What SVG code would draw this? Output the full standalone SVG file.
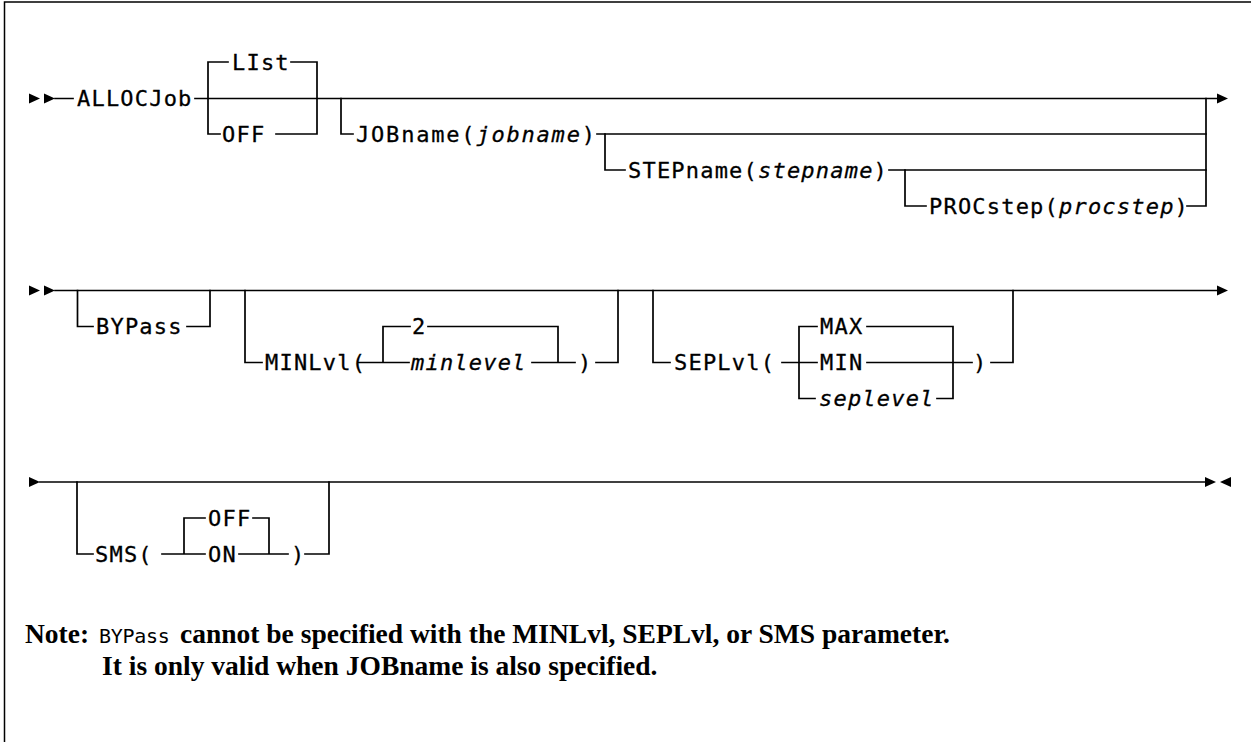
<svg xmlns="http://www.w3.org/2000/svg" width="1251" height="742" viewBox="0 0 1251 742">
  <style>
    .bg { fill: #ffffff; }
    .frame { fill: none; stroke: #000; stroke-width: 1.5; }
    .rail { fill: none; stroke: #000; stroke-width: 1.7; stroke-linecap: square; }
    .kw { font-family: "DejaVu Sans Mono", "Liberation Mono", monospace; font-size: 22px; letter-spacing: 1.2px; fill: #000; stroke: #000; stroke-width: 0.3; }
    .wide { letter-spacing: 1.8px; }
    .var { font-style: italic; }
    .note { font-family: "Liberation Serif", "Times New Roman", serif; font-size: 27.5px; font-weight: bold; fill: #000; }
    .notekw { font-family: "DejaVu Sans Mono", "Liberation Mono", monospace; font-size: 20px; letter-spacing: -0.3px; fill: #000; }
    .head { fill: #000; }
  </style>
  <defs>
    <polygon id="arrowR" points="0,-5 11,0 0,5"/>
    <polygon id="arrowL" points="11,-5 0,0 11,5"/>
  </defs>

  <rect class="bg" x="0" y="0" width="1251" height="742"/>
  <path class="frame" d="M4.5,742 V2 H1251"/>

  <!-- rails, branches and arrowheads -->
  <g id="connectors">
    <!-- line 1 -->
    <use href="#arrowR" class="head" x="29" y="98.5"/>
    <use href="#arrowR" class="head" x="44" y="98.5"/>
    <use href="#arrowR" class="head" x="1217" y="98.5"/>
    <path class="rail" d="M55,98.5 H73 M195,98.5 H1217"/>
    <path class="rail" d="M208,62 V134 M317,62 V134 M208,62 H228 M291,62 H317 M208,134 H220 M276,134 H317"/>
    <path class="rail" d="M341,98.5 V134 H353 M597,134 H1206"/>
    <path class="rail" d="M605,134 V170 H625 M889,170 H1206"/>
    <path class="rail" d="M905,170 V206 H926 M1187,206 H1206 M1206,98.5 V206"/>

    <!-- line 2 -->
    <use href="#arrowR" class="head" x="29" y="290.5"/>
    <use href="#arrowR" class="head" x="44" y="290.5"/>
    <use href="#arrowR" class="head" x="1217" y="290.5"/>
    <path class="rail" d="M55,290.5 H1217"/>
    <path class="rail" d="M77.5,290.5 V326.5 H93 M187,326.5 H210 V290.5"/>
    <path class="rail" d="M245,290.5 V362.5 H262 M358,362.5 H409 M383,326.5 V362.5 M383,326.5 H410 M428,326.5 H558 V362.5 M532,362.5 H575 M596,362.5 H618 V290.5"/>
    <path class="rail" d="M653,290.5 V362.5 H670 M782,362.5 H817 M799,326.5 V398.5 M799,326.5 H817 M867,326.5 H953 V398.5 M867,362.5 H972 M991,362.5 H1013 V290.5 M799,398.5 H815 M937,398.5 H953"/>

    <!-- line 3 -->
    <use href="#arrowR" class="head" x="29" y="482"/>
    <use href="#arrowR" class="head" x="1205" y="482"/>
    <use href="#arrowL" class="head" x="1220" y="482"/>
    <path class="rail" d="M40,482 H1205"/>
    <path class="rail" d="M77,482 V554 H93 M162,554 H205 M184,518 V554 M184,518 H205 M253,518 H269 V554 M239,554 H288 M305,554 H329 V482"/>
  </g>

  <!-- keywords and operands -->
  <g id="n-allocjob"><text class="kw" x="77" y="106">ALLOCJob</text></g>
  <g id="n-list"><text class="kw" x="232" y="69.5">LIst</text></g>
  <g id="n-off"><text class="kw" x="222" y="141.5">OFF</text></g>
  <g id="n-jobname"><text class="kw wide" x="356" y="141.5">JOBname(<tspan class="var">jobname</tspan>)</text></g>
  <g id="n-stepname"><text class="kw" x="628" y="177.5">STEPname(<tspan class="var">stepname</tspan>)</text></g>
  <g id="n-procstep"><text class="kw" x="929" y="213.5">PROCstep(<tspan class="var">procstep</tspan>)</text></g>

  <g id="n-bypass"><text class="kw" x="96" y="334">BYPass</text></g>
  <g id="n-minlvl"><text class="kw" x="265" y="370">MINLvl(</text></g>
  <g id="n-min-default"><text class="kw" x="412" y="334">2</text></g>
  <g id="n-minlevel"><text class="kw var" x="411" y="370">minlevel</text></g>
  <g id="n-minlvl-close"><text class="kw" x="578" y="370">)</text></g>
  <g id="n-seplvl"><text class="kw" x="674" y="370">SEPLvl(</text></g>
  <g id="n-max"><text class="kw" x="820" y="334">MAX</text></g>
  <g id="n-min"><text class="kw" x="820" y="370">MIN</text></g>
  <g id="n-seplevel"><text class="kw var" x="819" y="406">seplevel</text></g>
  <g id="n-seplvl-close"><text class="kw" x="973" y="370">)</text></g>

  <g id="n-sms"><text class="kw" x="95" y="561.5">SMS(</text></g>
  <g id="n-sms-off"><text class="kw" x="208" y="525.5">OFF</text></g>
  <g id="n-sms-on"><text class="kw" x="208" y="561.5">ON</text></g>
  <g id="n-sms-close"><text class="kw" x="291" y="561.5">)</text></g>

  <!-- usage note -->
  <g id="note">
    <text class="note" x="25" y="643">Note:</text>
    <text class="notekw" x="99" y="643">BYPass</text>
    <text class="note" x="180" y="643">cannot be specified with the MINLvl, SEPLvl, or SMS parameter.</text>
    <text class="note" x="102" y="675">It is only valid when JOBname is also specified.</text>
  </g>
</svg>
